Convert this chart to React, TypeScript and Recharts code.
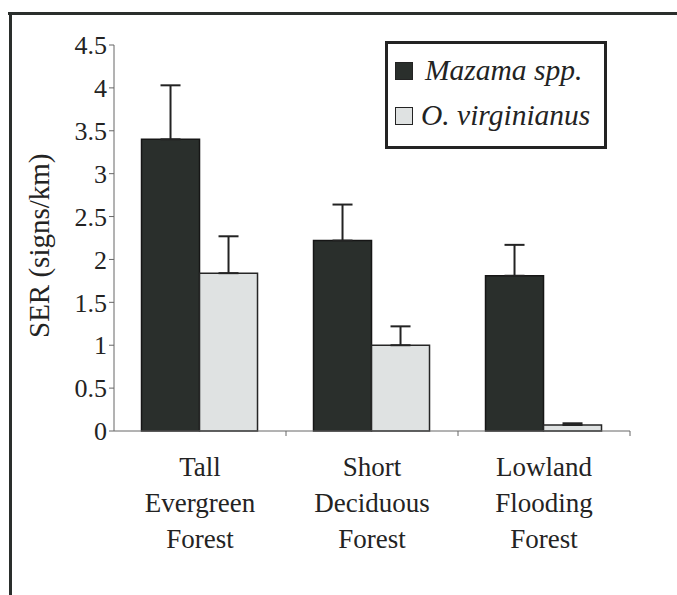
import React from "react";
import { Bar, BarChart, ErrorBar, XAxis, YAxis } from "recharts";

const categories = ["Tall Evergreen Forest", "Short Deciduous Forest", "Lowland Flooding Forest"];
const categoryLines = [
  ["Tall", "Evergreen", "Forest"],
  ["Short", "Deciduous", "Forest"],
  ["Lowland", "Flooding", "Forest"],
];
const mazama = [3.4, 2.22, 1.81];
const mazamaErr = [0.63, 0.42, 0.36];
const virginianus = [1.84, 1.0, 0.07];
const virginianusErr = [0.43, 0.22, 0.02];
const yTicks = [0, 0.5, 1, 1.5, 2, 2.5, 3, 3.5, 4, 4.5];
const seriesNames = ["Mazama spp.", "O. virginianus"];
const seriesFills = ["#2a2f2c", "#dfe2e2"];

const data = categories.map((name, i) => ({
  name,
  mazama: mazama[i],
  mazamaErr: [0, mazamaErr[i]],
  virginianus: virginianus[i],
  virginianusErr: [0, virginianusErr[i]],
}));

const FONT = "Liberation Serif, Times New Roman, Times, serif";
const INK = "#232323";
const AXIS = "#666";

// category label in three lines, plus the tick mark at the band's right edge
const CategoryTick = (props: any) => {
  const { x, y, index, payload, width } = props;
  const lines = categoryLines[index] || [];
  const half = payload?.offset || (width ? width / categories.length / 2 : 0);
  return (
    <g>
      <line x1={x + half} x2={x + half} y1={y - 7} y2={y - 2} stroke={AXIS} strokeWidth={1} />
      <text x={x} y={y} textAnchor="middle" fontFamily={FONT} fontSize={27} fill={INK}>
        {lines.map((l, i) => (
          <tspan key={i} x={x} y={y + 38 + i * 36}>
            {l}
          </tspan>
        ))}
      </text>
    </g>
  );
};

// legend drawn as a plain box over the chart, like the boxed legend in the figure
const LegendBox = () => (
  <div
    style={{
      position: "absolute",
      left: 385,
      top: 41,
      width: 216,
      height: 102,
      border: `3px solid ${INK}`,
      background: "#fff",
      fontFamily: FONT,
      fontStyle: "italic",
      fontSize: 29.5,
      color: INK,
    }}
  >
    {seriesNames.map((n, i) => (
      <div key={n} style={{ display: "flex", alignItems: "center", height: 45, marginTop: i === 0 ? 4 : 0, paddingLeft: 7 }}>
        <span
          style={{
            display: "inline-block",
            width: 16,
            height: 16,
            background: seriesFills[i],
            border: `1.5px solid ${INK}`,
            marginRight: i === 0 ? 12 : 8,
          }}
        />
        {n}
      </div>
    ))}
  </div>
);

export default function App() {
  return (
    <div style={{ position: "absolute", left: 0, top: 0, width: 677, height: 595, background: "#fff" }}>
      <div style={{ position: "absolute", left: 8, top: 12, width: 669, height: 3, background: "#2a2e2c" }} />
      <div style={{ position: "absolute", left: 9, top: 12, width: 3, height: 583, background: "#2a2e2c" }} />
      <BarChart
        width={677}
        height={595}
        data={data}
        margin={{ top: 45, right: 47, bottom: 64, left: 54 }}
        barCategoryGap="16%"
        barGap={0}
      >
        <XAxis
          dataKey="name"
          height={100}
          stroke={AXIS}
          tickSize={5}
          tickLine={false}
          tick={<CategoryTick />}
          interval={0}
        />
        <YAxis
          width={60}
          domain={[0, 4.5]}
          ticks={yTicks}
          stroke={AXIS}
          tickSize={5}
          tick={{ fontFamily: FONT, fontSize: 26, fill: INK }}
          label={{
            value: "SER  (signs/km)",
            angle: -90,
            position: "insideLeft",
            dx: -20,
            dy: 100,
            style: { fontFamily: FONT, fontSize: 29, fill: INK },
          }}
        />
        <Bar dataKey="mazama" name={seriesNames[0]} fill={seriesFills[0]} stroke="#161616" strokeWidth={1.5} isAnimationActive={false}>
          <ErrorBar dataKey="mazamaErr" direction="y" width={10} stroke={INK} strokeWidth={2} />
        </Bar>
        <Bar dataKey="virginianus" name={seriesNames[1]} fill={seriesFills[1]} stroke="#262626" strokeWidth={1.5} isAnimationActive={false}>
          <ErrorBar dataKey="virginianusErr" direction="y" width={10} stroke={INK} strokeWidth={2} />
        </Bar>
      </BarChart>
      <LegendBox />
    </div>
  );
}
